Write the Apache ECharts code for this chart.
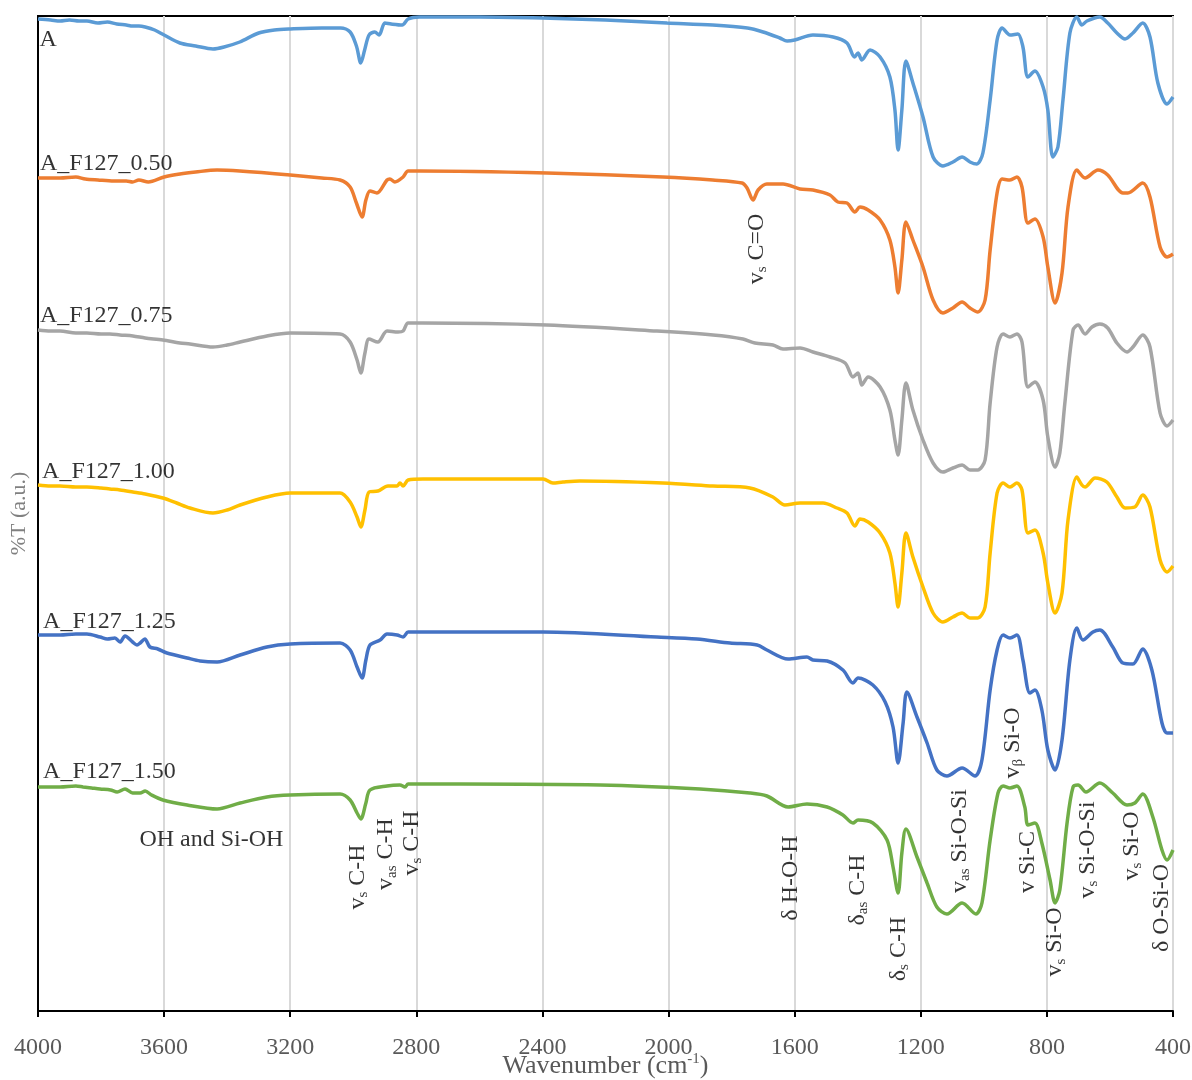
<!DOCTYPE html>
<html>
<head>
<meta charset="utf-8">
<script src="https://cdn.jsdelivr.net/npm/echarts@6/dist/echarts.min.js"></script>
<style>
    html, body { margin: 0; padding: 0; background: #fff; }
    #ftir_con { width: 1192px; height: 1080px; }
</style>
</head>
<body>
<div id="ftir_con"></div>
<script>
// FTIR spectra: [wavenumber (cm-1), %T (a.u., stacked offset)]
const specA = [
    [4000,992],[3960,991],[3930,990],[3900,991],[3870,990],[3845,990],[3810,988],[3780,989],[3750,987],[3720,986],
    [3700,985],[3680,985],[3660,984],[3630,981],[3600,976],[3550,968],[3500,965],[3445,962],[3410,964],[3360,969],
    [3300,978],[3250,981],[3200,982],[3100,983],[3040,983],[3010,979],[2990,965],[2976,948],[2964,961],[2950,976],
    [2932,979],[2918,976],[2900,988],[2880,987],[2845,986],[2826,992],[2790,994],[2600,994],[2400,993],[2200,991],
    [2005,988],[1860,986],[1750,983],[1700,979],[1647,973],[1624,970],[1600,971],[1542,976],[1478,974],[1434,968],
    [1410,954],[1399,958],[1387,951],[1361,961],[1329,954],[1298,934],[1282,901],[1272,861],[1260,901],[1247,950],
    [1225,928],[1193,894],[1161,854],[1130,845],[1098,849],[1069,854],[1044,849],[1022,847],[1003,858],[980,911],
    [958,971],[942,983],[917,976],[892,977],[876,964],[860,934],[838,940],[812,924],[797,901],[781,854],
    [765,864],[749,911],[727,978],[705,994],[689,986],[673,990],[632,994],[607,988],[578,978],[552,972],
    [527,978],[496,988],[473,974],[448,928],[419,907],[400,914]
];
const specF050 = [
    [4000,833],[3960,833],[3930,833],[3880,834],[3850,832],[3810,831],[3760,830],[3720,830],[3700,829],[3680,831],
    [3650,829],[3600,834],[3550,837],[3500,839],[3432,841],[3360,840],[3200,836],[3100,833],[3042,831],[3010,824],
    [2990,808],[2972,794],[2960,811],[2947,820],[2925,818],[2893,831],[2884,832],[2868,829],[2842,834],[2826,840],
    [2790,840],[2386,838],[2018,834],[1860,831],[1767,828],[1751,823],[1732,811],[1716,821],[1688,827],[1637,827],
    [1583,822],[1542,821],[1488,816],[1463,809],[1434,808],[1409,799],[1393,804],[1367,801],[1329,791],[1298,771],
    [1282,744],[1272,718],[1260,751],[1247,789],[1225,771],[1193,744],[1161,711],[1130,698],[1098,703],[1069,709],
    [1044,703],[1019,699],[996,711],[980,761],[958,818],[942,832],[917,831],[895,834],[879,824],[860,788],
    [838,792],[812,774],[797,744],[774,708],[752,738],[733,804],[705,841],[679,833],[638,841],[607,836],
    [559,818],[543,818],[496,828],[473,814],[441,764],[419,754],[400,757]
];
const specF075 = [
    [4000,681],[3960,680],[3930,680],[3880,678],[3845,678],[3800,677],[3772,677],[3740,676],[3699,675],[3660,673],
    [3604,671],[3550,668],[3518,667],[3445,664],[3400,666],[3359,669],[3274,675],[3200,678],[3042,677],[3010,669],
    [2988,651],[2976,638],[2963,658],[2950,672],[2922,669],[2893,680],[2858,679],[2842,680],[2826,688],[2779,688],
    [2386,686],[2037,680],[1859,676],[1764,672],[1726,668],[1669,666],[1637,662],[1583,663],[1542,659],[1488,654],
    [1440,648],[1415,634],[1399,638],[1387,626],[1367,634],[1329,624],[1298,601],[1282,571],[1272,556],[1260,591],
    [1247,628],[1225,601],[1193,571],[1161,548],[1130,539],[1098,543],[1069,546],[1044,541],[1019,541],[996,551],
    [980,608],[958,664],[939,677],[917,674],[895,677],[879,669],[860,624],[838,629],[812,611],[797,574],
    [774,544],[759,558],[743,608],[717,681],[701,686],[679,677],[657,684],[632,687],[607,683],[578,668],
    [546,659],[527,664],[496,676],[473,664],[441,598],[419,585],[400,591]
];
const specF100 = [
    [4000,526],[3960,525],[3930,525],[3880,524],[3845,524],[3800,523],[3772,522],[3740,521],[3699,519],[3660,517],
    [3604,513],[3560,508],[3518,503],[3445,498],[3400,501],[3359,506],[3274,514],[3200,518],[3042,518],[3010,509],
    [2988,494],[2976,484],[2963,501],[2950,519],[2922,520],[2890,525],[2861,525],[2852,528],[2842,525],[2826,531],
    [2779,532],[2398,532],[2367,528],[2335,529],[2281,530],[2018,528],[1859,525],[1742,523],[1669,514],[1631,506],
    [1583,508],[1510,508],[1466,503],[1434,498],[1409,485],[1393,492],[1367,489],[1329,478],[1298,458],[1282,428],
    [1272,404],[1260,438],[1247,478],[1225,454],[1193,424],[1161,398],[1130,389],[1098,394],[1069,398],[1044,393],
    [1019,393],[996,404],[980,458],[958,518],[939,528],[917,524],[895,528],[879,521],[860,478],[838,481],
    [812,458],[797,428],[774,398],[752,418],[733,491],[705,534],[689,526],[679,524],[647,533],[610,529],
    [578,514],[552,503],[521,504],[496,516],[473,504],[441,451],[419,439],[400,445]
];
const specF125 = [
    [4000,376],[3960,376],[3930,376],[3880,377],[3845,377],[3803,374],[3780,372],[3756,373],[3740,369],[3724,375],
    [3700,369],[3686,366],[3676,368],[3661,372],[3645,364],[3620,362],[3591,358],[3527,353],[3486,350],[3432,349],
    [3359,356],[3274,364],[3200,367],[3042,368],[3010,361],[2988,344],[2972,333],[2960,351],[2947,366],[2915,371],
    [2893,377],[2861,376],[2842,374],[2826,379],[2779,379],[2398,379],[2037,374],[1910,372],[1805,368],[1719,366],
    [1688,361],[1621,352],[1561,354],[1542,351],[1497,350],[1447,341],[1415,328],[1399,333],[1352,326],[1313,309],
    [1288,284],[1272,248],[1256,288],[1244,319],[1212,294],[1180,268],[1149,241],[1117,235],[1069,243],[1028,235],
    [1006,251],[980,321],[958,361],[939,376],[917,373],[895,376],[876,351],[854,318],[838,321],[816,301],
    [797,261],[774,241],[752,271],[727,351],[705,383],[686,371],[654,379],[632,381],[591,364],[559,348],
    [527,347],[496,362],[467,341],[435,288],[419,278],[400,278]
];
const specF150 = [
    [4000,224],[3960,224],[3930,224],[3880,225],[3857,224],[3830,223],[3803,222],[3770,221],[3749,219],[3724,222],
    [3700,218],[3676,218],[3660,220],[3640,216],[3604,211],[3527,206],[3432,202],[3359,208],[3274,214],[3200,216],
    [3042,217],[3010,211],[2988,198],[2976,192],[2960,208],[2947,221],[2893,225],[2852,226],[2836,224],[2826,227],
    [2661,227],[2217,226],[1900,222],[1742,218],[1688,215],[1621,204],[1561,207],[1497,204],[1447,196],[1415,188],
    [1399,191],[1352,188],[1307,171],[1288,144],[1272,118],[1260,158],[1247,182],[1212,154],[1180,128],[1149,104],
    [1117,97],[1069,108],[1025,97],[1006,108],[980,171],[955,218],[939,225],[917,223],[895,225],[870,204],
    [860,186],[838,188],[816,168],[790,131],[774,108],[759,121],[736,188],[717,224],[701,226],[676,219],
    [632,228],[591,218],[546,206],[521,208],[496,217],[464,194],[435,161],[419,151],[400,161]
];

const sampleNames = ['A', 'A_F127_0.50', 'A_F127_0.75', 'A_F127_1.00', 'A_F127_1.25', 'A_F127_1.50'];
const spectra = [specA, specF050, specF075, specF100, specF125, specF150];
const colors = ['#5B9BD5', '#ED7D31', '#A5A5A5', '#FFC000', '#4472C4', '#70AD47'];

// name tag anchors [wavenumber, %T]
const sampleTagAt = [[3995, 971], [3994, 847], [3994, 695], [3987, 539], [3984, 389], [3984, 239]];

// band assignments [text, wavenumber, %T], "_" marks a subscript
const bandLabels = [
    ['v_s C=O', 1720, 762],
    ['v_s C-H', 2985, 134],
    ['v_as C-H', 2896, 157],
    ['v_s C-H', 2814, 168],
    ['δ H-O-H', 1612, 133],
    ['δ_as C-H', 1400, 121],
    ['δ_s C-H', 1269, 62],
    ['v_as Si-O-Si', 1076, 170],
    ['v_β Si-O', 908, 268],
    ['v Si-C', 862, 149],
    ['v_s Si-O', 774, 69],
    ['v_s Si-O-Si', 670, 161],
    ['v_s Si-O', 530, 165],
    ['δ O-Si-O', 435, 103]
];
const ohNote = ['OH and Si-OH', 3450, 171];

const FONT = '"Liberation Serif", "DejaVu Serif", serif';

function richText(s) {
    const m = s.match(/^(\S+?)_(\S+)(.*)$/);
    if (!m) return '{t|' + s + '}';
    return '{t|' + m[1] + '}{s|' + m[2] + '}{t|' + m[3] + '}';
}

const series = spectra.map(function (d, i) {
    return {
        name: sampleNames[i],
        type: 'line',
        data: d,
        smooth: 0.3,
        showSymbol: false,
        lineStyle: { width: 3.5, color: colors[i] },
        itemStyle: { color: colors[i] },
        z: 3
    };
});

series.push({
    type: 'scatter',
    silent: true,
    symbolSize: 1,
    itemStyle: { color: 'rgba(0,0,0,0)' },
    data: sampleNames.map(function (n, i) { return [sampleTagAt[i][0], sampleTagAt[i][1], n]; }),
    label: {
        show: true,
        position: 'inside',
        align: 'left',
        verticalAlign: 'middle',
        formatter: function (p) { return p.value[2]; },
        fontFamily: FONT,
        fontSize: 24,
        color: '#000'
    },
    z: 5
});

series.push({
    type: 'scatter',
    silent: true,
    symbolSize: 1,
    itemStyle: { color: 'rgba(0,0,0,0)' },
    data: bandLabels.map(function (b) { return [b[1], b[2], b[0]]; }),
    label: {
        show: true,
        position: 'inside',
        rotate: 90,
        align: 'center',
        verticalAlign: 'middle',
        formatter: function (p) { return richText(p.value[2]); },
        rich: {
            t: { fontFamily: FONT, fontSize: 24, lineHeight: 26, color: '#000' },
            s: { fontFamily: FONT, fontSize: 15, lineHeight: 6, verticalAlign: 'bottom', color: '#000' }
        }
    },
    z: 5
});

series.push({
    type: 'scatter',
    silent: true,
    symbolSize: 1,
    itemStyle: { color: 'rgba(0,0,0,0)' },
    data: [[ohNote[1], ohNote[2], ohNote[0]]],
    label: {
        show: true,
        position: 'inside',
        align: 'center',
        verticalAlign: 'middle',
        formatter: function (p) { return p.value[2]; },
        fontFamily: FONT,
        fontSize: 24,
        color: '#000'
    },
    z: 5
});

var chart = echarts.init(document.getElementById('ftir_con'));
chart.setOption({
    animation: false,
    backgroundColor: '#fff',
    grid: {
        left: 38, right: 19, top: 16, bottom: 69,
        outerBoundsMode: 'none',
        containLabel: false,
        show: true, borderColor: '#000', borderWidth: 2
    },
    xAxis: {
        type: 'value',
        inverse: true,
        min: 400,
        max: 4000,
        interval: 400,
        name: '{a|Wavenumber (cm}{b|-1}{a|)}',
        nameLocation: 'middle',
        nameGap: 41,
        nameMoveOverlap: false,
        nameTextStyle: {
            rich: {
                a: { fontFamily: FONT, fontSize: 26, color: '#595959', lineHeight: 28 },
                b: { fontFamily: FONT, fontSize: 15, color: '#595959', verticalAlign: 'top', lineHeight: 20 }
            }
        },
        axisLine: { show: true, lineStyle: { color: '#000', width: 2 } },
        axisTick: { show: true, length: 6, lineStyle: { color: '#000', width: 2 } },
        axisLabel: {
            margin: 25, fontFamily: FONT, fontSize: 24, color: '#595959',
            formatter: function (v) { return String(v); }
        },
        splitLine: { show: true, lineStyle: { color: '#D9D9D9', width: 2 } }
    },
    yAxis: {
        type: 'value',
        min: 0,
        max: 995,
        name: '%T (a.u.)',
        nameLocation: 'middle',
        nameRotate: 90,
        nameGap: 8,
        nameTextStyle: { fontFamily: FONT, fontSize: 22, color: '#808080' },
        axisLine: { show: true, lineStyle: { color: '#000', width: 2 } },
        axisTick: { show: false },
        axisLabel: { show: false },
        splitLine: { show: false }
    },
    series: series
});
</script>
</body>
</html>
